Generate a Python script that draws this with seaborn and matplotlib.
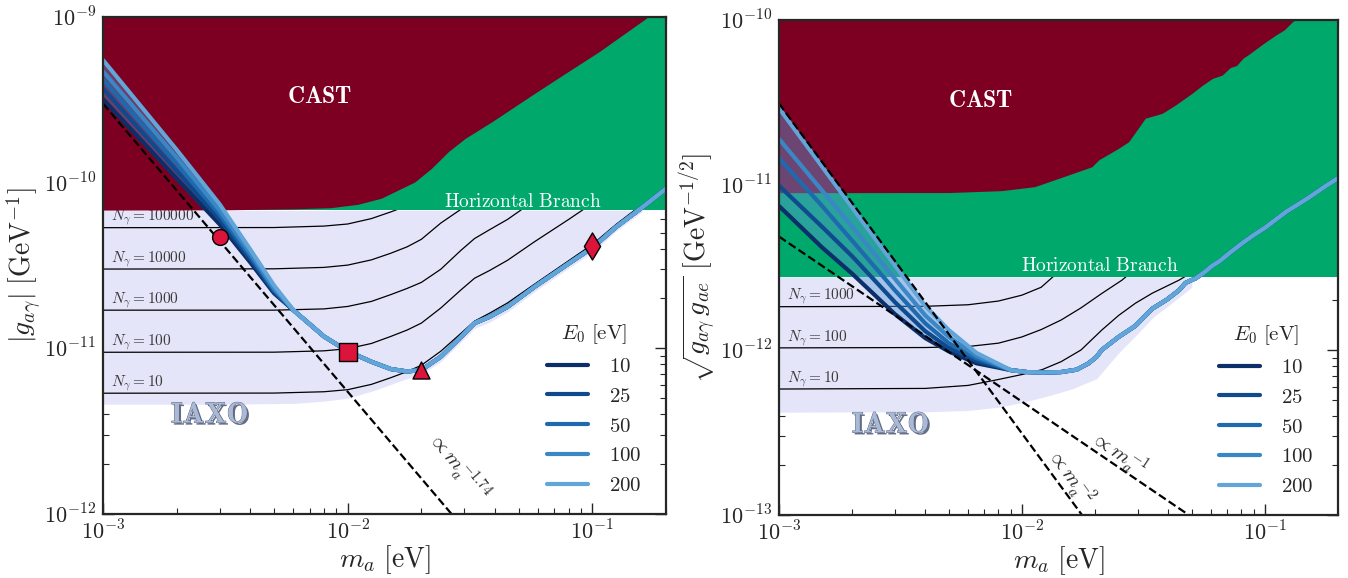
import numpy as np
import matplotlib
matplotlib.use("Agg")
import matplotlib.pyplot as plt
import matplotlib.patheffects as pe
from matplotlib.ticker import FuncFormatter, NullFormatter, LogLocator, FixedLocator
import seaborn as sns

sns.set_style("ticks")
plt.rcParams["mathtext.fontset"] = "cm"
plt.rcParams["font.family"] = ["DejaVu Serif"]

# ---------------- data ----------------
E0 = [10, 25, 50, 100, 200]
blue_colors = ["#0c2f6a", "#0f4a8e", "#1f69ae", "#3a87c6", "#62a5d9"]
x_ticks = [1e-3, 1e-2, 1e-1]
yL_ticks = [1e-12, 1e-11, 1e-10, 1e-9]
yR_ticks = [1e-13, 1e-12, 1e-11, 1e-10]

# left panel: photon coupling
mL_low = [1e-3, 2e-3, 3e-3, 4e-3, 5e-3]
gL_E10 = [3.2e-10, 1.06e-10, 5.6e-11, 3.3e-11, 2.15e-11]
gL_E25 = [3.7e-10, 1.18e-10, 6.0e-11, 3.45e-11, 2.2e-11]
gL_E50 = [4.2e-10, 1.3e-10, 6.4e-11, 3.6e-11, 2.25e-11]
gL_E100 = [4.7e-10, 1.42e-10, 6.8e-11, 3.75e-11, 2.3e-11]
gL_E200 = [5.5e-10, 1.58e-10, 7.4e-11, 3.95e-11, 2.4e-11]
mL_common = [0.006, 0.008, 0.01, 0.0125, 0.015, 0.0175, 0.02, 0.024, 0.029, 0.033,
             0.038, 0.045, 0.058, 0.08, 0.1, 0.125, 0.16, 0.2]
gL_common = [1.7e-11, 1.18e-11, 9.6e-12, 8.3e-12, 7.5e-12, 7.25e-12, 7.4e-12, 8.9e-12,
             1.17e-11, 1.42e-11, 1.55e-11, 1.78e-11, 2.35e-11, 3.25e-11, 4.05e-11,
             5.4e-11, 7.1e-11, 9.2e-11]

mL_cast = [1e-3, 3e-3, 6e-3, 8.5e-3, 0.011, 0.0137, 0.0188, 0.022, 0.0258, 0.0302,
           0.0388, 0.0567, 0.0776, 0.1066, 0.1656, 0.2]
gL_cast = [6.83e-11, 6.85e-11, 6.95e-11, 7.06e-11, 7.4e-11, 8.05e-11, 1.01e-10, 1.22e-10,
           1.54e-10, 1.85e-10, 2.33e-10, 3.38e-10, 4.57e-10, 6.18e-10, 9.8e-10, 1.25e-9]
gL_hb = 6.8e-11

mL_iaxo = [1e-3, 3e-3, 6e-3, 8e-3, 0.01, 0.013, 0.0166, 0.02, 0.024, 0.029, 0.033,
           0.038, 0.045, 0.058, 0.08, 0.1, 0.125, 0.16, 0.2]
gL_iaxo = [4.6e-12, 4.6e-12, 4.65e-12, 4.8e-12, 5.0e-12, 5.6e-12, 6.4e-12, 7.0e-12,
           8.3e-12, 1.09e-11, 1.32e-11, 1.44e-11, 1.66e-11, 2.2e-11, 3.05e-11, 3.8e-11,
           5.1e-11, 6.7e-11, 8.7e-11]

mL_n = [1e-3, 5e-3, 8e-3, 0.01, 0.0125, 0.015, 0.0175, 0.02, 0.024, 0.029, 0.033,
        0.038, 0.045, 0.058, 0.08, 0.1, 0.125, 0.16, 0.2]
gL_N10 = [5.36e-12, 5.37e-12, 5.47e-12, 5.63e-12, 6.06e-12, 6.65e-12, 7.24e-12, 7.9e-12,
          9.6e-12, 1.23e-11, 1.46e-11, 1.63e-11, 1.88e-11, 2.44e-11, 3.38e-11, 4.24e-11,
          5.6e-11, 7.4e-11, 9.4e-11]
gL_N100 = [9.47e-12, 9.48e-12, 9.66e-12, 9.95e-12, 1.07e-11, 1.18e-11, 1.29e-11, 1.42e-11,
           1.75e-11, 2.25e-11, 2.65e-11, 2.95e-11, 3.4e-11, 4.4e-11, 6.0e-11, 7.5e-11,
           9.9e-11, 1.3e-10, 1.7e-10]
gL_N1000 = [1.70e-11, 1.70e-11, 1.73e-11, 1.79e-11, 1.92e-11, 2.11e-11, 2.3e-11, 2.5e-11,
            3.0e-11, 3.9e-11, 4.6e-11, 5.2e-11, 6.0e-11, 7.8e-11, 1.07e-10, 1.34e-10,
            1.77e-10, 2.3e-10, 3.0e-10]
gL_N10000 = [3.01e-11, 3.02e-11, 3.08e-11, 3.18e-11, 3.42e-11, 3.75e-11, 4.1e-11, 4.55e-11,
             5.7e-11, 6.9e-11, 8.2e-11, 9.2e-11, 1.06e-10, 1.38e-10, 1.9e-10, 2.4e-10,
             3.1e-10, 4.1e-10, 5.3e-10]
gL_N100000 = [5.35e-11, 5.36e-11, 5.47e-11, 5.63e-11, 6.07e-11, 6.66e-11, 7.25e-11, 7.9e-11,
              9.6e-11, 1.23e-10, 1.46e-10, 1.63e-10, 1.88e-10, 2.45e-10, 3.4e-10, 4.2e-10,
              5.6e-10, 7.3e-10, 9.4e-10]
NL_labels = ["100000", "10000", "1000", "100", "10"]

mL_dash = [1e-3, 0.03]
gL_dash = [3.0e-10, 8.1e-13]

mk_m = [0.003, 0.01, 0.02, 0.1]
mk_g = [4.72e-11, 9.5e-12, 7.45e-12, 4.15e-11]
mk_style = ["o", "s", "^", "d"]
mk_size = [130, 170, 150, 190]

# right panel: sqrt(g_ag g_ae)
mR_low = [1e-3, 1.5e-3, 2e-3, 3e-3, 4e-3, 5e-3, 6.5e-3]
gR_E10 = [7.46e-12, 4.2e-12, 2.9e-12, 1.65e-12, 1.18e-12, 9.8e-13, 8.3e-13]
gR_E25 = [9.9e-12, 5.6e-12, 3.7e-12, 1.95e-12, 1.3e-12, 1.03e-12, 8.6e-13]
gR_E50 = [1.45e-11, 7.5e-12, 4.6e-12, 2.3e-12, 1.45e-12, 1.1e-12, 8.9e-13]
gR_E100 = [1.9e-11, 9.3e-12, 5.6e-12, 2.7e-12, 1.62e-12, 1.2e-12, 9.2e-13]
gR_E200 = [2.92e-11, 1.3e-11, 7.3e-12, 3.25e-12, 1.85e-12, 1.32e-12, 9.6e-13]
mR_common = [0.009, 0.0105, 0.0122, 0.0145, 0.0168, 0.0188, 0.0203, 0.0213, 0.025, 0.0293,
             0.0344, 0.0395, 0.0443, 0.0471, 0.0519, 0.0562, 0.0609, 0.065, 0.072, 0.08,
             0.0895, 0.1, 0.1226, 0.15, 0.175, 0.2]
gR_common = [7.55e-13, 7.35e-13, 7.3e-13, 7.35e-13, 7.6e-13, 8.3e-13, 9.1e-13, 1.0e-12,
             1.2e-12, 1.4e-12, 1.78e-12, 2.02e-12, 2.3e-12, 2.55e-12, 2.72e-12, 2.95e-12,
             3.25e-12, 3.45e-12, 3.9e-12, 4.4e-12, 4.95e-12, 5.5e-12, 6.9e-12, 8.3e-12,
             9.7e-12, 1.1e-11]

mR_cast = [1e-3, 5e-3, 0.00823, 0.01128, 0.01553, 0.0194, 0.0207, 0.025, 0.0275, 0.0322,
           0.0378, 0.0428, 0.0502, 0.055, 0.0609, 0.0668, 0.072, 0.0765, 0.0812, 0.086,
           0.0947, 0.1, 0.111, 0.12, 0.13, 0.14, 0.2]
gR_cast = [8.98e-12, 9.0e-12, 9.24e-12, 9.77e-12, 1.15e-11, 1.29e-11, 1.42e-11, 1.67e-11,
           1.83e-11, 2.54e-11, 2.72e-11, 3.05e-11, 3.6e-11, 4.0e-11, 4.43e-11, 4.64e-11,
           5.15e-11, 5.3e-11, 5.86e-11, 6.2e-11, 6.89e-11, 7.3e-11, 8.11e-11, 8.7e-11,
           9.77e-11, 1.05e-10, 1.5e-10]
gR_hb = 2.78e-12

mR_iaxo = [1e-3, 4e-3, 6e-3, 8e-3, 0.01, 0.013, 0.016, 0.0203, 0.025, 0.03, 0.035, 0.04,
           0.05, 0.06, 0.07]
gR_iaxo = [4.2e-13, 4.22e-13, 4.3e-13, 4.5e-13, 4.8e-13, 5.3e-13, 5.8e-13, 6.7e-13,
           9.6e-13, 1.26e-12, 1.6e-12, 1.85e-12, 2.4e-12, 2.9e-12, 3.3e-12]

mR_N10 = [1e-3, 4e-3, 6e-3, 7.7e-3, 0.01, 0.0121, 0.0145, 0.0175, 0.0213, 0.025, 0.0293,
          0.0344, 0.0443, 0.0519, 0.06]
gR_N10 = [5.8e-13, 5.85e-13, 6.1e-13, 6.55e-13, 7.1e-13, 7.6e-13, 8.5e-13, 1.0e-12,
          1.32e-12, 1.62e-12, 1.92e-12, 2.21e-12, 2.65e-12, 3.05e-12, 3.5e-12]
mR_N100 = [1e-3, 4e-3, 6e-3, 8e-3, 0.01, 0.012, 0.0145, 0.0175, 0.0213, 0.0258, 0.03]
gR_N100 = [1.03e-12, 1.035e-12, 1.05e-12, 1.1e-12, 1.2e-12, 1.33e-12, 1.52e-12, 1.8e-12,
           2.2e-12, 2.65e-12, 3.2e-12]
mR_N1000 = [1e-3, 4e-3, 6e-3, 8e-3, 0.01, 0.012, 0.0135, 0.016]
gR_N1000 = [1.83e-12, 1.84e-12, 1.88e-12, 1.98e-12, 2.15e-12, 2.4e-12, 2.8e-12, 3.3e-12]
NR_labels = ["1000", "100", "10"]

mR_dash1 = [1e-3, 0.06]
gR_dash1 = [4.87e-12, 8.1e-14]
mR_dash2 = [1e-3, 0.02]
gR_dash2 = [3.12e-11, 7.8e-14]

# ---------------- plotting ----------------
CAST_C = "#7d0022"
HB_C = "#00a86b"
IAXO_C = "#e5e5fa"

fig = plt.figure(figsize=(13.48, 5.78), dpi=100)
axL = fig.add_axes([0.0764, 0.1107, 0.4177, 0.8599])
axR = fig.add_axes([0.5779, 0.109, 0.4147, 0.8564])


def style_axes(ax, ylim, yticks):
    ax.set_xscale("log")
    ax.set_yscale("log")
    ax.set_xlim(1e-3, 0.2)
    ax.set_ylim(*ylim)
    fmt = FuncFormatter(lambda v, p: r"$10^{%d}$" % int(round(np.log10(v))))
    ax.xaxis.set_major_locator(FixedLocator(x_ticks))
    ax.yaxis.set_major_locator(FixedLocator(yticks))
    ax.xaxis.set_major_formatter(fmt)
    ax.yaxis.set_major_formatter(fmt)
    ax.xaxis.set_minor_locator(LogLocator(base=10, subs=np.arange(2, 10)))
    ax.yaxis.set_minor_locator(LogLocator(base=10, subs=np.arange(2, 10)))
    ax.xaxis.set_minor_formatter(NullFormatter())
    ax.yaxis.set_minor_formatter(NullFormatter())
    ax.tick_params(which="both", direction="in", top=True, right=True)
    ax.tick_params(which="major", length=8, width=1.0, labelsize=16, pad=5)
    ax.tick_params(which="minor", length=4, width=0.8)
    for s in ax.spines.values():
        s.set_linewidth(1.6)
        s.set_zorder(20)
    ax.set_xlabel(r"$m_a\ [\mathrm{eV}]$", fontsize=20, labelpad=-1)


def iaxo_text(ax, x, y):
    ax.text(x, y, r"$\mathbf{IAXO}$", transform=ax.transAxes, fontsize=21,
            color="#a9b9d6", ha="center", va="center", zorder=12,
            path_effects=[pe.SimplePatchShadow(offset=(1.5, -1.5), shadow_rgbFace="#3e4a66", alpha=0.8),
                          pe.Stroke(linewidth=0.6, foreground="#55607a"), pe.Normal()])


def add_legend(ax):
    ax.legend(title=r"$E_0\ [\mathrm{eV}]$", frameon=False, fontsize=15, title_fontsize=15,
              loc="lower right", bbox_to_anchor=(0.99, 0.0), handlelength=2.0,
              labelspacing=0.52, handletextpad=1.0)


# ----- left panel -----
ax = axL
style_axes(ax, (1e-12, 1e-9), yL_ticks)
ax.fill_between(mL_iaxo, gL_iaxo, gL_hb, where=np.array(gL_iaxo) < gL_hb,
                color=IAXO_C, lw=0, zorder=1)
ax.fill_between([1e-3, 0.2], gL_hb, 1e-8, color=HB_C, lw=0, zorder=3)
ax.fill_between(mL_cast, gL_cast, 1e-8, color=CAST_C, lw=0, zorder=4)

for g_n, lab in zip([gL_N100000, gL_N10000, gL_N1000, gL_N100, gL_N10], NL_labels):
    sns.lineplot(x=mL_n, y=g_n, ax=ax, color="black", lw=0.9, zorder=2)
    ax.text(1.08e-3, g_n[0] * 1.15, r"$N_\gamma = %s$" % lab, fontsize=11,
            color="#3a3a3a", va="center", ha="left", zorder=2)

curvesL = [gL_E10, gL_E25, gL_E50, gL_E100, gL_E200]
mL_all = mL_low + mL_common
ax.fill_between(mL_all, gL_E10 + gL_common, gL_E200 + gL_common,
                color="#5b9bd5", alpha=0.4, lw=0, zorder=5)
for g_e, c, e in zip(curvesL, blue_colors, E0):
    sns.lineplot(x=mL_all, y=g_e + gL_common, ax=ax, color=c, lw=3.0,
                 label=r"$%d$" % e, zorder=6)

sns.lineplot(x=mL_dash, y=gL_dash, ax=ax, color="black", lw=1.6,
             linestyle="--", zorder=7)
for mx, gy, st, sz in zip(mk_m, mk_g, mk_style, mk_size):
    ax.scatter([mx], [gy], marker=st, s=sz, color="#dc143c", edgecolor="black",
               linewidth=1.0, zorder=10)

ax.text(0.385, 0.84, r"$\mathbf{CAST}$", transform=ax.transAxes, color="white",
        fontsize=17, ha="center", va="center", zorder=12)
ax.text(0.745, 0.628, r"$\mathrm{Horizontal\ Branch}$", transform=ax.transAxes,
        color="white", fontsize=14, ha="center", va="center", zorder=12)
iaxo_text(ax, 0.19, 0.2)
ax.text(0.63, 0.095, r"$\propto m_a^{-1.74}$", transform=ax.transAxes, fontsize=15,
        rotation=-50, ha="center", va="center", zorder=12)
ax.set_ylabel(r"$|g_{a\gamma}|\ [\mathrm{GeV}^{-1}]$", fontsize=20, labelpad=0)
add_legend(ax)

# ----- right panel -----
ax = axR
style_axes(ax, (1e-13, 1e-10), yR_ticks)
ax.fill_between(mR_iaxo, gR_iaxo, gR_hb, where=np.array(gR_iaxo) < gR_hb,
                color=IAXO_C, lw=0, zorder=1)
ax.fill_between([1e-3, 0.2], gR_hb, 1e-9, color=HB_C, lw=0, zorder=3)
ax.fill_between(mR_cast, gR_cast, 1e-9, color=CAST_C, lw=0, zorder=4)

for mn, g_n, lab in zip([mR_N1000, mR_N100, mR_N10], [gR_N1000, gR_N100, gR_N10], NR_labels):
    sns.lineplot(x=mn, y=g_n, ax=ax, color="black", lw=0.9, zorder=2)
    ax.text(1.08e-3, g_n[0] * 1.15, r"$N_\gamma = %s$" % lab, fontsize=11,
            color="#3a3a3a", va="center", ha="left", zorder=2)

curvesR = [gR_E10, gR_E25, gR_E50, gR_E100, gR_E200]
mR_all = mR_low + mR_common
ax.fill_between(mR_all, gR_E10 + gR_common, gR_E200 + gR_common,
                color="#5b9bd5", alpha=0.45, lw=0, zorder=5)
for g_e, c, e in zip(curvesR, blue_colors, E0):
    sns.lineplot(x=mR_all, y=g_e + gR_common, ax=ax, color=c, lw=3.0,
                 label=r"$%d$" % e, zorder=6)

sns.lineplot(x=mR_dash1, y=gR_dash1, ax=ax, color="black", lw=1.6,
             linestyle="--", zorder=7)
sns.lineplot(x=mR_dash2, y=gR_dash2, ax=ax, color="black", lw=1.6,
             linestyle="--", zorder=7)

ax.text(0.36, 0.838, r"$\mathbf{CAST}$", transform=ax.transAxes, color="white",
        fontsize=17, ha="center", va="center", zorder=12)
ax.text(0.574, 0.503, r"$\mathrm{Horizontal\ Branch}$", transform=ax.transAxes,
        color="white", fontsize=14, ha="center", va="center", zorder=12)
iaxo_text(ax, 0.2, 0.183)
ax.text(0.606, 0.123, r"$\propto m_a^{-1}$", transform=ax.transAxes, fontsize=15,
        rotation=-34, ha="center", va="center", zorder=12)
ax.text(0.52, 0.077, r"$\propto m_a^{-2}$", transform=ax.transAxes, fontsize=15,
        rotation=-54, ha="center", va="center", zorder=12)
ax.set_ylabel(r"$\sqrt{g_{a\gamma}\, g_{ae}}\ [\mathrm{GeV}^{-1/2}]$", fontsize=20, labelpad=0)
add_legend(ax)

fig.savefig("out.png", dpi=100)
